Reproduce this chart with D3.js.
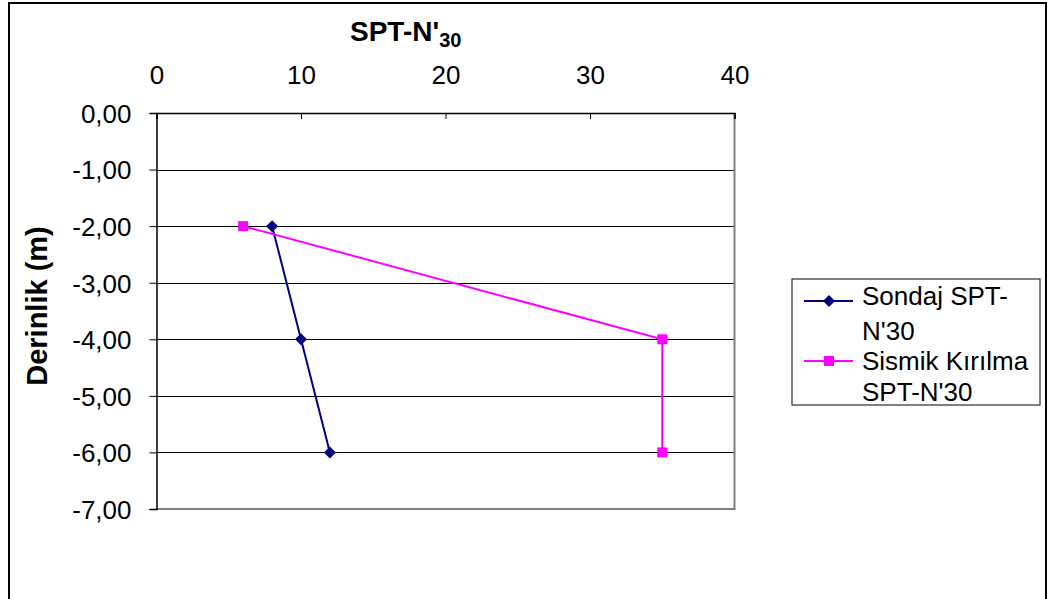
<!DOCTYPE html>
<html>
<head>
<meta charset="utf-8">
<script src="https://cdn.jsdelivr.net/npm/d3@7"></script>
<style>
  html, body { margin: 0; padding: 0; background: #fff; }
  svg { display: block; font-family: Arial, "Liberation Sans", sans-serif; }
</style>
</head>
<body>
<svg id="chart" width="1047" height="599"></svg>
<script>
// ---- data ----
const depths = [-2, -4, -6];
const sondajN = [8, 10, 12];
const sismikDepths = [-2, -4, -6];
const sismikN = [6, 35, 35];
const xTicks = [0, 10, 20, 30, 40];
const yTicks = [0, -1, -2, -3, -4, -5, -6, -7];
const seriesNames = [["Sondaj SPT-", "N'30"], ["Sismik Kırılma", "SPT-N'30"]];
const seriesColors = ["#000080", "#FF00FF"];

// ---- layout ----
const svg = d3.select("#chart");
const plot = { left: 156.5, top: 113, right: 734.5, bottom: 509 };

// outer chart border
svg.append("rect")
  .attr("x", 9).attr("y", 3).attr("width", 1037).attr("height", 620)
  .attr("fill", "#fff").attr("stroke", "#000").attr("stroke-width", 2);

const x = d3.scaleLinear().domain([0, 40]).range([plot.left, plot.right]);
const y = d3.scaleLinear().domain([0, -7]).range([plot.top, plot.bottom]);

// gridlines
svg.append("g").selectAll("line").data(yTicks).join("line")
  .attr("x1", plot.left).attr("x2", plot.right)
  .attr("y1", d => Math.round(y(d)) + 0.5).attr("y2", d => Math.round(y(d)) + 0.5)
  .attr("stroke", "#000").attr("stroke-width", 1);

// plot area border right & bottom (gray)
svg.append("path")
  .attr("d", `M${plot.right},${plot.top}V${plot.bottom}H${plot.left}`)
  .attr("fill", "none").attr("stroke", "#808080").attr("stroke-width", 2);

// X axis (top)
const xAxis = svg.append("g")
  .attr("transform", `translate(0,${plot.top})`)
  .call(d3.axisTop(x).tickValues(xTicks).tickSize(-6).tickPadding(0).tickFormat(d3.format("d")));
xAxis.select(".domain").attr("stroke", "#000").attr("stroke-width", 1.5);
xAxis.selectAll(".tick line").attr("stroke", "#000");
xAxis.selectAll(".tick text")
  .attr("font-size", 26).attr("fill", "#000")
  .attr("font-family", "Arial, 'Liberation Sans', sans-serif")
  .attr("y", -29).attr("dy", 0);

// Y axis (left)
const fmt = d => d3.format(".2f")(d).replace(".", ",").replace("−", "-");
const yAxis = svg.append("g")
  .attr("transform", `translate(${plot.left},0)`)
  .call(d3.axisLeft(y).tickValues(yTicks).tickSize(7).tickPadding(18).tickFormat(fmt));
yAxis.select(".domain").attr("stroke", "#000").attr("stroke-width", 1.5);
yAxis.selectAll(".tick line").attr("stroke", "#000");
yAxis.selectAll(".tick text")
  .attr("font-size", 26).attr("fill", "#000")
  .attr("font-family", "Arial, 'Liberation Sans', sans-serif")
  .attr("dy", "0.36em");

// titles
const title = svg.append("text")
  .attr("x", 350).attr("y", 41)
  .attr("font-size", 28).attr("font-weight", "bold").attr("fill", "#000");
title.append("tspan").text("SPT-N'");
title.append("tspan").text("30").attr("font-size", 20).attr("dy", 6);

svg.append("text")
  .attr("transform", "translate(47,306) rotate(-90)")
  .attr("text-anchor", "middle")
  .attr("font-size", 29).attr("font-weight", "bold").attr("fill", "#000")
  .text("Derinlik (m)");

// series
const line = d3.line().x(d => x(d[0])).y(d => y(d[1]));
const s1 = sondajN.map((v, i) => [v, depths[i]]);
const s2 = sismikN.map((v, i) => [v, sismikDepths[i]]);

svg.append("path").datum(s1).attr("d", line)
  .attr("fill", "none").attr("stroke", seriesColors[0]).attr("stroke-width", 2);
svg.append("path").datum(s2).attr("d", line)
  .attr("fill", "none").attr("stroke", seriesColors[1]).attr("stroke-width", 2);

const diamond = "M0,-6L6,0L0,6L-6,0Z";
svg.append("g").selectAll("path").data(s1).join("path")
  .attr("d", diamond)
  .attr("transform", d => `translate(${x(d[0])},${y(d[1])})`)
  .attr("fill", seriesColors[0]);
svg.append("g").selectAll("rect").data(s2).join("rect")
  .attr("x", d => x(d[0]) - 5).attr("y", d => y(d[1]) - 5)
  .attr("width", 10).attr("height", 10)
  .attr("fill", seriesColors[1]);

// legend
const lg = svg.append("g");
lg.append("rect").attr("x", 792).attr("y", 279).attr("width", 248).attr("height", 126)
  .attr("fill", "#fff").attr("stroke", "#000").attr("stroke-width", 1);
const entryY = [301, 361];
const textBase = [[305, 340], [370, 401]];
seriesNames.forEach((names, i) => {
  lg.append("line").attr("x1", 804).attr("x2", 853)
    .attr("y1", entryY[i]).attr("y2", entryY[i])
    .attr("stroke", seriesColors[i]).attr("stroke-width", 2);
  if (i === 0) {
    lg.append("path").attr("d", diamond)
      .attr("transform", `translate(829,${entryY[i]})`).attr("fill", seriesColors[i]);
  } else {
    lg.append("rect").attr("x", 824).attr("y", entryY[i] - 5)
      .attr("width", 10).attr("height", 10).attr("fill", seriesColors[i]);
  }
  names.forEach((t, j) => {
    lg.append("text").attr("x", 862).attr("y", textBase[i][j])
      .attr("font-size", 26).attr("fill", "#000").text(t);
  });
});
</script>
</body>
</html>
